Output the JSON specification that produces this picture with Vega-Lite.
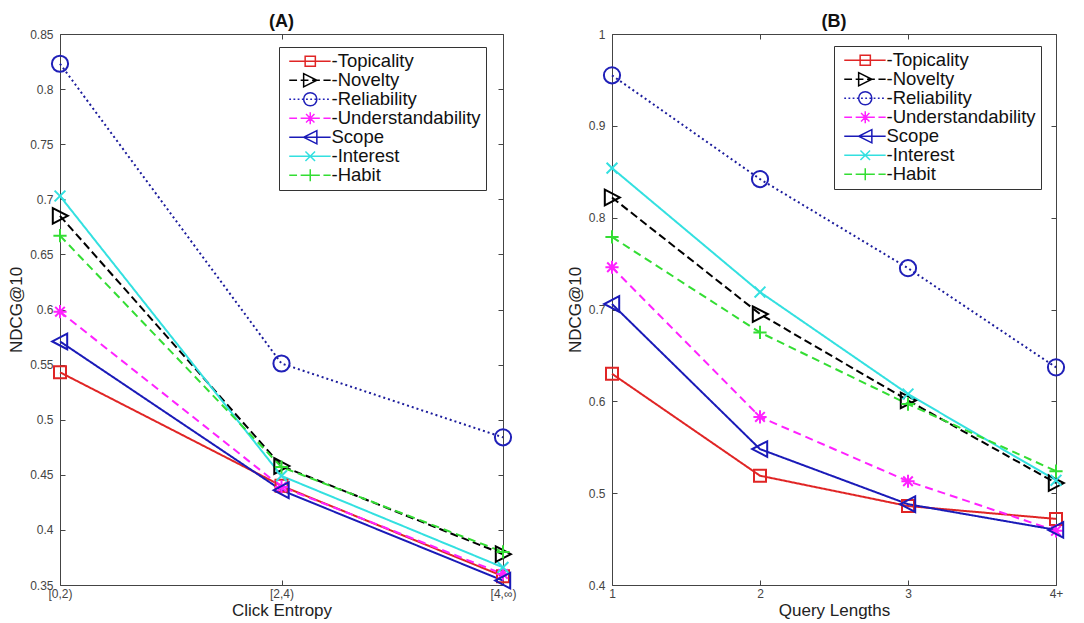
{
  "$schema": "https://vega.github.io/schema/vega-lite/v6.json",
  "padding": {"left": 7, "top": 12, "right": 0, "bottom": 0},
  "background": "white",
  "spacing": 41,
  "config": {
    "font": "Liberation Sans",
    "view": {"stroke": "#444", "strokeWidth": 1},
    "title": {"font": "Liberation Sans", "fontSize": 18, "fontWeight": "bold", "color": "#111", "offset": -3, "anchor": "middle"},
    "axis": {"grid": false, "labelFont": "Liberation Sans", "labelFontSize": 12, "labelColor": "#444", "titleFont": "Liberation Sans", "titleFontSize": 17, "titleFontWeight": "normal", "titleColor": "#222", "tickColor": "#444", "domain": false, "tickSize": -5, "labelPadding": 12, "titlePadding": 4},
    "legend": {"orient": "none", "strokeColor": "#333", "fillColor": "white", "padding": 5, "labelFont": "Liberation Sans", "labelFontSize": 18.5, "labelColor": "#111", "rowPadding": -1, "symbolSize": 144, "symbolStrokeWidth": 1.5, "symbolOpacity": 1, "symbolFillColor": "transparent", "symbolOffset": 17, "labelOffset": 12, "title": null}
  },
  "datasets": {
    "A": [
      {"x": "[0,2)", "series": "Topicality", "v": 0.543},
      {"x": "[2,4)", "series": "Topicality", "v": 0.440},
      {"x": "[4,∞)", "series": "Topicality", "v": 0.358},
      {"x": "[0,2)", "series": "Novelty", "v": 0.685},
      {"x": "[2,4)", "series": "Novelty", "v": 0.458},
      {"x": "[4,∞)", "series": "Novelty", "v": 0.378},
      {"x": "[0,2)", "series": "Reliability", "v": 0.823},
      {"x": "[2,4)", "series": "Reliability", "v": 0.551},
      {"x": "[4,∞)", "series": "Reliability", "v": 0.484},
      {"x": "[0,2)", "series": "Understandability", "v": 0.598},
      {"x": "[2,4)", "series": "Understandability", "v": 0.439},
      {"x": "[4,∞)", "series": "Understandability", "v": 0.360},
      {"x": "[0,2)", "series": "Scope", "v": 0.571},
      {"x": "[2,4)", "series": "Scope", "v": 0.436},
      {"x": "[4,∞)", "series": "Scope", "v": 0.354},
      {"x": "[0,2)", "series": "Interest", "v": 0.703},
      {"x": "[2,4)", "series": "Interest", "v": 0.449},
      {"x": "[4,∞)", "series": "Interest", "v": 0.366},
      {"x": "[0,2)", "series": "Habit", "v": 0.667},
      {"x": "[2,4)", "series": "Habit", "v": 0.457},
      {"x": "[4,∞)", "series": "Habit", "v": 0.380}
    ],
    "B": [
      {"x": "1", "series": "Topicality", "v": 0.630},
      {"x": "2", "series": "Topicality", "v": 0.519},
      {"x": "3", "series": "Topicality", "v": 0.486},
      {"x": "4+", "series": "Topicality", "v": 0.472},
      {"x": "1", "series": "Novelty", "v": 0.822},
      {"x": "2", "series": "Novelty", "v": 0.695},
      {"x": "3", "series": "Novelty", "v": 0.601},
      {"x": "4+", "series": "Novelty", "v": 0.511},
      {"x": "1", "series": "Reliability", "v": 0.955},
      {"x": "2", "series": "Reliability", "v": 0.842},
      {"x": "3", "series": "Reliability", "v": 0.745},
      {"x": "4+", "series": "Reliability", "v": 0.637},
      {"x": "1", "series": "Understandability", "v": 0.746},
      {"x": "2", "series": "Understandability", "v": 0.583},
      {"x": "3", "series": "Understandability", "v": 0.513},
      {"x": "4+", "series": "Understandability", "v": 0.459},
      {"x": "1", "series": "Scope", "v": 0.706},
      {"x": "2", "series": "Scope", "v": 0.548},
      {"x": "3", "series": "Scope", "v": 0.488},
      {"x": "4+", "series": "Scope", "v": 0.460},
      {"x": "1", "series": "Interest", "v": 0.854},
      {"x": "2", "series": "Interest", "v": 0.719},
      {"x": "3", "series": "Interest", "v": 0.608},
      {"x": "4+", "series": "Interest", "v": 0.514},
      {"x": "1", "series": "Habit", "v": 0.779},
      {"x": "2", "series": "Habit", "v": 0.675},
      {"x": "3", "series": "Habit", "v": 0.597},
      {"x": "4+", "series": "Habit", "v": 0.524}
    ]
  },
  "hconcat": [
    {
      "width": 443,
      "height": 551,
      "title": "(A)",
      "data": {"name": "A"},
      "resolve": {"scale": {"color": "independent", "shape": "independent", "strokeDash": "independent"}, "axis": {"x": "independent", "y": "independent"}, "legend": {"color": "independent", "shape": "independent", "strokeDash": "independent"}},
      "layer": [
        {
          "mark": {"type": "line", "strokeWidth": 2},
          "encoding": {
            "x": {"field": "x", "type": "ordinal", "sort": ["[0,2)", "[2,4)", "[4,∞)"], "scale": {"type": "point", "padding": 0, "domain": ["[0,2)", "[2,4)", "[4,∞)"]}, "axis": {"orient": "bottom", "title": "Click Entropy", "labelAngle": 0, "labelPadding": 8, "titlePadding": 3}},
            "y": {"field": "v", "type": "quantitative", "scale": {"domain": [0.35, 0.85], "nice": false, "zero": false}, "axis": {"orient": "left", "title": "NDCG@10", "values": [0.35, 0.4, 0.45, 0.5, 0.55, 0.6, 0.65, 0.7, 0.75, 0.8, 0.85], "format": ".2~f"}},
            "color": {"field": "series", "type": "nominal", "scale": {"domain": ["Topicality", "Novelty", "Reliability", "Understandability", "Scope", "Interest", "Habit"], "range": ["#e02525", "#000000", "#1c1c9c", "#ff22ff", "#1a1ab8", "#33e0e0", "#33dd33"]}, "legend": null},
            "strokeDash": {"field": "series", "type": "nominal", "scale": {"domain": ["Topicality", "Novelty", "Reliability", "Understandability", "Scope", "Interest", "Habit"], "range": [[1, 0], [8, 4], [2, 3], [8, 5], [1, 0], [1, 0], [8, 5]]}, "legend": null},
            "detail": {"field": "series"}
          }
        },
        {
          "mark": {"type": "point", "filled": false, "size": 144, "strokeWidth": 2, "opacity": 1},
          "encoding": {
            "x": {"field": "x", "type": "ordinal", "sort": ["[0,2)", "[2,4)", "[4,∞)"], "axis": null},
            "y": {"field": "v", "type": "quantitative", "axis": null},
            "color": {"field": "series", "type": "nominal", "scale": {"domain": ["Topicality", "Novelty", "Reliability", "Understandability", "Scope", "Interest", "Habit"], "range": ["#e02525", "#000000", "#2020b8", "#ff22ff", "#1a1ab8", "#33e0e0", "#33dd33"]}, "legend": null},
            "shape": {"field": "series", "type": "nominal", "scale": {"domain": ["Topicality", "Novelty", "Reliability", "Understandability", "Scope", "Interest", "Habit"], "range": ["M-1,-1H1V1H-1Z", "M-1.2,-1.3L1.3,0L-1.2,1.3Z", "M-1.35,0A1.35,1.35 0 1,0 1.35,0A1.35,1.35 0 1,0 -1.35,0Z", "M-1.1,0H1.1M0,-1.1V1.1M-0.8,-0.8L0.8,0.8M-0.8,0.8L0.8,-0.8", "M1.2,-1.3L-1.3,0L1.2,1.3Z", "M-0.9,-0.9L0.9,0.9M-0.9,0.9L0.9,-0.9", "M-1.1,0H1.1M0,-1.1V1.1"]}, "legend": null}
          }
        },
        {
          "mark": {"type": "point", "filled": false, "size": 144, "strokeWidth": 1.5, "opacity": 0},
          "encoding": {
            "x": {"field": "x", "type": "ordinal", "sort": ["[0,2)", "[2,4)", "[4,∞)"], "axis": {"orient": "top", "labels": false, "title": null}},
            "y": {"field": "v", "type": "quantitative", "axis": {"orient": "right", "labels": false, "title": null, "values": [0.35, 0.4, 0.45, 0.5, 0.55, 0.6, 0.65, 0.7, 0.75, 0.8, 0.85]}},
            "color": {"field": "series", "type": "nominal", "scale": {"domain": ["Topicality", "Novelty", "Reliability", "Understandability", "Scope", "Interest", "Habit"], "range": ["#e02525", "#000000", "#2020b8", "#ff22ff", "#1a1ab8", "#33e0e0", "#33dd33"]}, "legend": {"legendX": 219, "legendY": 13, "labelExpr": "datum.label == 'Scope' ? 'Scope' : '-' + datum.label"}},
            "shape": {"field": "series", "type": "nominal", "scale": {"domain": ["Topicality", "Novelty", "Reliability", "Understandability", "Scope", "Interest", "Habit"], "range": [
              "M-3.5,0H3.4M-0.85,-0.85H0.85V0.85H-0.85Z",
              "M-3.5,0H-2.2M-1.6,0H-0.3M0.3,0H1.6M2.2,0H3.4M-1.1,-1.1L1.1,0L-1.1,1.1Z",
              "M-3.5,0H-3.2M-2.8,0H-2.5M-2.1,0H-1.8M-1.4,0H-1.1M-0.7,0H-0.4M0,0H0.3M0.7,0H1M1.4,0H1.7M2.1,0H2.4M2.8,0H3.1M-1.1,0A1.1,1.1 0 1,0 1.1,0A1.1,1.1 0 1,0 -1.1,0Z",
              "M-3.5,0H-2.2M-1.6,0H-0.3M0.3,0H1.6M2.2,0H3.4M-1,0H1M0,-1V1M-0.7,-0.7L0.7,0.7M-0.7,0.7L0.7,-0.7",
              "M-3.5,0H3.4M1.1,-1.1L-1.1,0L1.1,1.1Z",
              "M-3.5,0H3.4M-0.8,-0.8L0.8,0.8M-0.8,0.8L0.8,-0.8",
              "M-3.5,0H-2.2M-1.6,0H-0.3M0.3,0H1.6M2.2,0H3.4M-1,0H1M0,-1V1"
            ]}, "legend": {"legendX": 219, "legendY": 13, "labelExpr": "datum.label == 'Scope' ? 'Scope' : '-' + datum.label"}}
          }
        }
      ]
    },
    {
      "width": 444,
      "height": 551,
      "title": "(B)",
      "data": {"name": "B"},
      "resolve": {"scale": {"color": "independent", "shape": "independent", "strokeDash": "independent"}, "axis": {"x": "independent", "y": "independent"}, "legend": {"color": "independent", "shape": "independent", "strokeDash": "independent"}},
      "layer": [
        {
          "mark": {"type": "line", "strokeWidth": 2},
          "encoding": {
            "x": {"field": "x", "type": "ordinal", "sort": ["1", "2", "3", "4+"], "scale": {"type": "point", "padding": 0, "domain": ["1", "2", "3", "4+"]}, "axis": {"orient": "bottom", "title": "Query Lengths", "labelAngle": 0, "labelPadding": 8, "titlePadding": 3}},
            "y": {"field": "v", "type": "quantitative", "scale": {"domain": [0.4, 1.0], "nice": false, "zero": false}, "axis": {"orient": "left", "title": "NDCG@10", "values": [0.4, 0.5, 0.6, 0.7, 0.8, 0.9, 1.0], "format": ".2~f"}},
            "color": {"field": "series", "type": "nominal", "scale": {"domain": ["Topicality", "Novelty", "Reliability", "Understandability", "Scope", "Interest", "Habit"], "range": ["#e02525", "#000000", "#1c1c9c", "#ff22ff", "#1a1ab8", "#33e0e0", "#33dd33"]}, "legend": null},
            "strokeDash": {"field": "series", "type": "nominal", "scale": {"domain": ["Topicality", "Novelty", "Reliability", "Understandability", "Scope", "Interest", "Habit"], "range": [[1, 0], [8, 4], [2, 3], [8, 5], [1, 0], [1, 0], [8, 5]]}, "legend": null},
            "detail": {"field": "series"}
          }
        },
        {
          "mark": {"type": "point", "filled": false, "size": 144, "strokeWidth": 2, "opacity": 1},
          "encoding": {
            "x": {"field": "x", "type": "ordinal", "sort": ["1", "2", "3", "4+"], "axis": null},
            "y": {"field": "v", "type": "quantitative", "axis": null},
            "color": {"field": "series", "type": "nominal", "scale": {"domain": ["Topicality", "Novelty", "Reliability", "Understandability", "Scope", "Interest", "Habit"], "range": ["#e02525", "#000000", "#2020b8", "#ff22ff", "#1a1ab8", "#33e0e0", "#33dd33"]}, "legend": null},
            "shape": {"field": "series", "type": "nominal", "scale": {"domain": ["Topicality", "Novelty", "Reliability", "Understandability", "Scope", "Interest", "Habit"], "range": ["M-1,-1H1V1H-1Z", "M-1.2,-1.3L1.3,0L-1.2,1.3Z", "M-1.35,0A1.35,1.35 0 1,0 1.35,0A1.35,1.35 0 1,0 -1.35,0Z", "M-1.1,0H1.1M0,-1.1V1.1M-0.8,-0.8L0.8,0.8M-0.8,0.8L0.8,-0.8", "M1.2,-1.3L-1.3,0L1.2,1.3Z", "M-0.9,-0.9L0.9,0.9M-0.9,0.9L0.9,-0.9", "M-1.1,0H1.1M0,-1.1V1.1"]}, "legend": null}
          }
        },
        {
          "mark": {"type": "point", "filled": false, "size": 144, "strokeWidth": 1.5, "opacity": 0},
          "encoding": {
            "x": {"field": "x", "type": "ordinal", "sort": ["1", "2", "3", "4+"], "axis": {"orient": "top", "labels": false, "title": null}},
            "y": {"field": "v", "type": "quantitative", "axis": {"orient": "right", "labels": false, "title": null, "values": [0.4, 0.5, 0.6, 0.7, 0.8, 0.9, 1.0]}},
            "color": {"field": "series", "type": "nominal", "scale": {"domain": ["Topicality", "Novelty", "Reliability", "Understandability", "Scope", "Interest", "Habit"], "range": ["#e02525", "#000000", "#2020b8", "#ff22ff", "#1a1ab8", "#33e0e0", "#33dd33"]}, "legend": {"legendX": 222, "legendY": 12, "labelExpr": "datum.label == 'Scope' ? 'Scope' : '-' + datum.label"}},
            "shape": {"field": "series", "type": "nominal", "scale": {"domain": ["Topicality", "Novelty", "Reliability", "Understandability", "Scope", "Interest", "Habit"], "range": [
              "M-3.5,0H3.4M-0.85,-0.85H0.85V0.85H-0.85Z",
              "M-3.5,0H-2.2M-1.6,0H-0.3M0.3,0H1.6M2.2,0H3.4M-1.1,-1.1L1.1,0L-1.1,1.1Z",
              "M-3.5,0H-3.2M-2.8,0H-2.5M-2.1,0H-1.8M-1.4,0H-1.1M-0.7,0H-0.4M0,0H0.3M0.7,0H1M1.4,0H1.7M2.1,0H2.4M2.8,0H3.1M-1.1,0A1.1,1.1 0 1,0 1.1,0A1.1,1.1 0 1,0 -1.1,0Z",
              "M-3.5,0H-2.2M-1.6,0H-0.3M0.3,0H1.6M2.2,0H3.4M-1,0H1M0,-1V1M-0.7,-0.7L0.7,0.7M-0.7,0.7L0.7,-0.7",
              "M-3.5,0H3.4M1.1,-1.1L-1.1,0L1.1,1.1Z",
              "M-3.5,0H3.4M-0.8,-0.8L0.8,0.8M-0.8,0.8L0.8,-0.8",
              "M-3.5,0H-2.2M-1.6,0H-0.3M0.3,0H1.6M2.2,0H3.4M-1,0H1M0,-1V1"
            ]}, "legend": {"legendX": 222, "legendY": 12, "labelExpr": "datum.label == 'Scope' ? 'Scope' : '-' + datum.label"}}
          }
        }
      ]
    }
  ],
  "resolve": {"scale": {"x": "independent", "y": "independent"}}
}
